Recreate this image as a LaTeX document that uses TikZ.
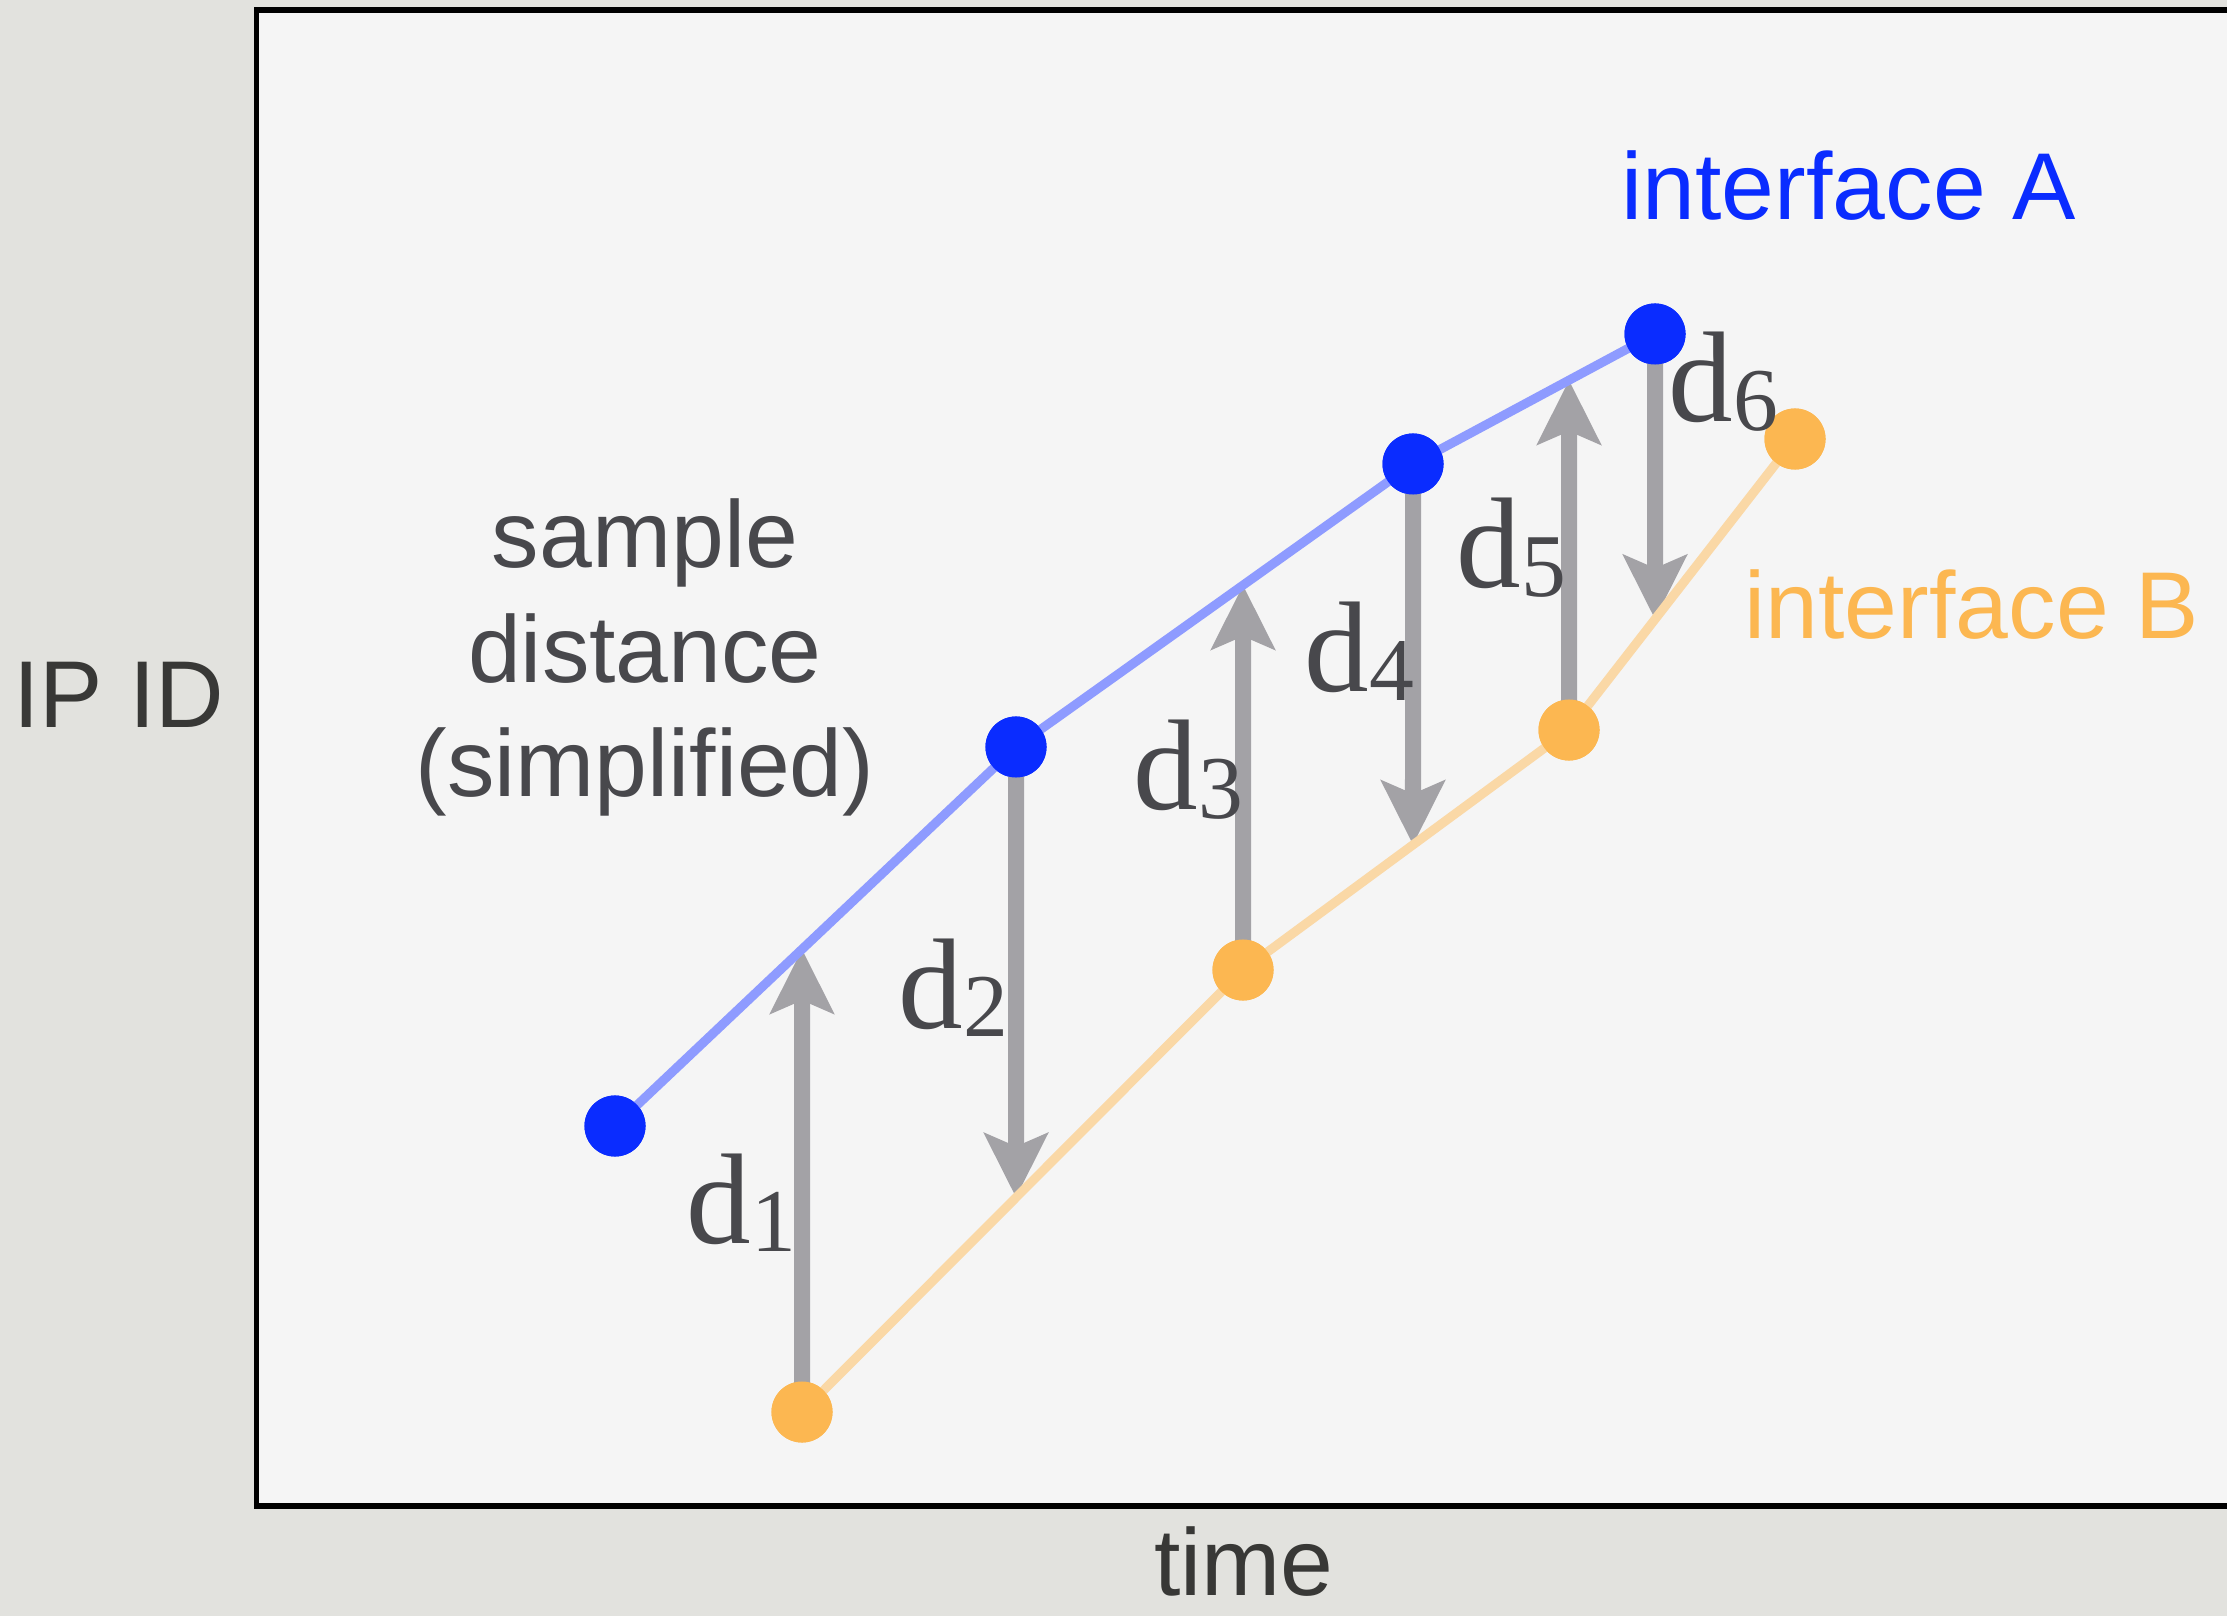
\documentclass[tikz,border=0pt]{standalone}
\usepackage{fontspec}
\setmainfont{Liberation Serif}
\newfontfamily\helv{Liberation Sans}
\usetikzlibrary{arrows.meta,intersections}
\definecolor{outerbg}{HTML}{E2E2DE}
\definecolor{innerbg}{HTML}{F5F5F5}
\definecolor{bluedot}{HTML}{0A2CFF}
\definecolor{blueline}{HTML}{8E9BFF}
\definecolor{orangedot}{HTML}{FCB751}
\definecolor{orangeline}{HTML}{FAD8A6}
\definecolor{arrgray}{HTML}{A3A2A6}
\definecolor{txtgray}{HTML}{48484C}
\definecolor{axisgray}{HTML}{383836}
\newcommand\dsub[1]{\raisebox{-2.3pt}{\fontsize{25.5}{27}\selectfont #1}}
\tikzset{
  frame/.style={draw=black, line width=1.56pt, fill=innerbg},
  bdot/.style={circle, fill=bluedot, inner sep=0pt, minimum size=0.61cm},
  odot/.style={circle, fill=orangedot, inner sep=0pt, minimum size=0.61cm},
  bline/.style={draw=blueline, line width=2.6pt},
  oline/.style={draw=orangeline, line width=2.6pt},
  darr/.style={draw=arrgray, line width=4.55pt,
    -{Stealth[length=18.2pt, width=17.9pt, inset=3.7pt, fill=arrgray]}},
  dlab/.style={inner sep=0pt, anchor=base west, text=txtgray,
    font=\fontsize{36.7}{40}\selectfont},
  sanslab/.style={inner sep=0pt, anchor=base,
    font=\helv\fontsize{27}{32}\selectfont},
}
\begin{document}
\begin{tikzpicture}[x=0.01cm, y=-0.01cm]
\useasboundingbox (0,0) rectangle (2227,1616);
\clip (0,0) rectangle (2227,1616);
\fill[outerbg] (0,0) rectangle (2227,1616);
\path[frame] (256.5,10) rectangle (2300,1506);

% data points
\node[bdot] (b1) at (615,1126) {};
\node[bdot] (b2) at (1016,747) {};
\node[bdot] (b3) at (1413,464) {};
\node[bdot] (b4) at (1655,334) {};
\node[odot] (o1) at (802,1412) {};
\node[odot] (o2) at (1243,970) {};
\node[odot] (o3) at (1569,730) {};
\node[odot] (o4) at (1795,439) {};

% paths for intersections
\path[name path=bluepath] (b1.center) -- (b2.center) -- (b3.center) -- (b4.center);
\path[name path=orangepath] (o1.center) -- (o2.center) -- (o3.center) -- (o4.center);
\path[name path=v1] (o1.center) -- ++(0,-900);
\path[name path=v2] (b2.center) -- ++(0,900);
\path[name path=v3] (o2.center) -- ++(0,-900);
\path[name path=v4] (b3.center) -- ++(0,900);
\path[name path=v5] (o3.center) -- ++(0,-900);
\path[name path=v6] (b4.center) -- ++(0,900);
\path[name intersections={of=bluepath and v1, by=t1}];
\path[name intersections={of=orangepath and v2, by=t2}];
\path[name intersections={of=bluepath and v3, by=t3}];
\path[name intersections={of=orangepath and v4, by=t4}];
\path[name intersections={of=bluepath and v5, by=t5}];
\path[name intersections={of=orangepath and v6, by=t6}];

% distance arrows
\draw[darr] (o1.center) -- (t1);
\draw[darr] (b2.center) -- (t2);
\draw[darr] (o2.center) -- (t3);
\draw[darr] (b3.center) -- (t4);
\draw[darr] (o3.center) -- (t5);
\draw[darr] (b4.center) -- (t6);

% interface lines
\draw[bline] (b1.center) -- (b2.center) -- (b3.center) -- (b4.center);
\draw[oline] (o1.center) -- (o2.center) -- (o3.center) -- (o4.center);

% redraw dots on top
\foreach \n in {b1,b2,b3,b4}{\node[bdot] at (\n) {};}
\foreach \n in {o1,o2,o3,o4}{\node[odot] at (\n) {};}

% distance labels
\node[dlab] (l1) at (686,1243) {d\dsub{1}};
\node[dlab] (l2) at (898,1028) {d\dsub{2}};
\node[dlab] (l3) at (1133,810) {d\dsub{3}};
\node[dlab] (l4) at (1304,692) {d\dsub{4}};
\node[dlab] (l5) at (1456,588) {d\dsub{5}};
\node[dlab] (l6) at (1668,422) {d\dsub{6}};

% texts
\node[sanslab, text=bluedot, anchor=base west] (ia) at (1621,220) {interface A};
\node[sanslab, text=orangedot, anchor=base west] (ib) at (1744,639) {interface B};
\node[sanslab, text=txtgray] (s1) at (645,568) {sample};
\node[sanslab, text=txtgray] (s2) at (645,683) {distance};
\node[sanslab, text=txtgray] (s3) at (645,797) {(simplified)};
\node[sanslab, text=axisgray] (ipid) at (119,728) {IP ID};
\node[sanslab, text=axisgray] (time) at (1244,1595) {time};
\end{tikzpicture}
\end{document}
